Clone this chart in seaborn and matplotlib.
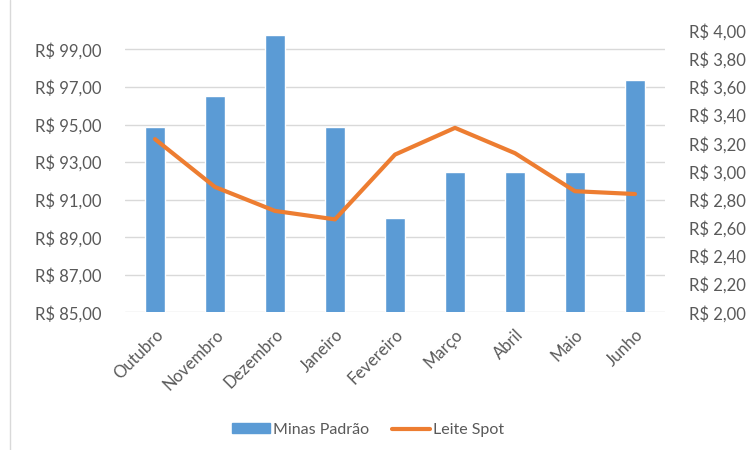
import numpy as np
import pandas as pd
import matplotlib
matplotlib.use("Agg")
import matplotlib.pyplot as plt
import seaborn as sns
from matplotlib.lines import Line2D
from matplotlib.patches import Patch

# %%
meses = ["Outubro", "Novembro", "Dezembro", "Janeiro", "Fevereiro",
         "Março", "Abril", "Maio", "Junho"]
minas_padrao = [94.85, 96.5, 99.75, 94.85, 90.0, 92.45, 92.45, 92.45, 97.4]
leite_spot = [3.23, 2.89, 2.72, 2.66, 3.12, 3.31, 3.13, 2.86, 2.84]

df = pd.DataFrame({"mes": meses, "minas": minas_padrao, "spot": leite_spot})

# %%
sns.set_style("white")
plt.rcParams["font.family"] = ["Lato", "DejaVu Sans"]
cinza = "#595959"
azul = "#5B9BD5"
laranja = "#ED7D31"

fig = plt.figure(figsize=(7.47, 4.5), dpi=100)
ax = fig.add_axes([125 / 747, 1 - 312.3 / 450, 540 / 747, (312.3 - 30.7) / 450])

sns.barplot(x="mes", y="minas", data=df, color=azul, saturation=1,
            width=0.32, ax=ax, zorder=2)
ax.set_ylim(85, 100)
ax.set_yticks(np.arange(85, 100, 2))
ax.set_yticklabels(["R$ {:.2f}".format(v).replace(".", ",") for v in np.arange(85, 100, 2)])
ax.grid(axis="y", color="#D9D9D9", linewidth=1, zorder=0)
ax.set_axisbelow(True)
ax.set_xlim(-0.5, len(meses) - 0.5)
ax.set_xlabel("")
ax.set_ylabel("")

ax2 = ax.twinx()
sns.lineplot(x="mes", y="spot", data=df, color=laranja, linewidth=3,
             ax=ax2, sort=False, solid_capstyle="round")
ax2.set_ylim(2, 4)
ticks2 = np.round(np.arange(2, 4.01, 0.2), 2)
ax2.set_yticks(ticks2)
ax2.set_yticklabels(["R$ {:.2f}".format(v).replace(".", ",") for v in ticks2])
ax2.set_ylabel("")
ax2.set_xlabel("")
ax2.grid(False)

for a in (ax, ax2):
    for s in a.spines.values():
        s.set_visible(False)
    a.tick_params(length=0, labelsize=12, colors=cinza)

ax.tick_params(axis="y", pad=17)
ax2.tick_params(axis="y", pad=17)
plt.setp(ax.get_xticklabels(), rotation=45, ha="right", rotation_mode="anchor")
ax.tick_params(axis="x", pad=10)

# moldura do gráfico à esquerda
fig.add_artist(Line2D([10 / 747, 10 / 747], [0, 1], color="#D9D9D9", linewidth=1))

handles = [Patch(color=azul), Line2D([0], [0], color=laranja, linewidth=3)]
fig.legend(handles, ["Minas Padrão", "Leite Spot"], loc="center",
           bbox_to_anchor=(368 / 747, 1 - 430 / 450), ncol=2, frameon=False,
           fontsize=11.5, labelcolor=cinza, handlelength=2.4, handleheight=0.6,
           handletextpad=0.2, columnspacing=1.4)

fig.savefig("out.png", dpi=100)
